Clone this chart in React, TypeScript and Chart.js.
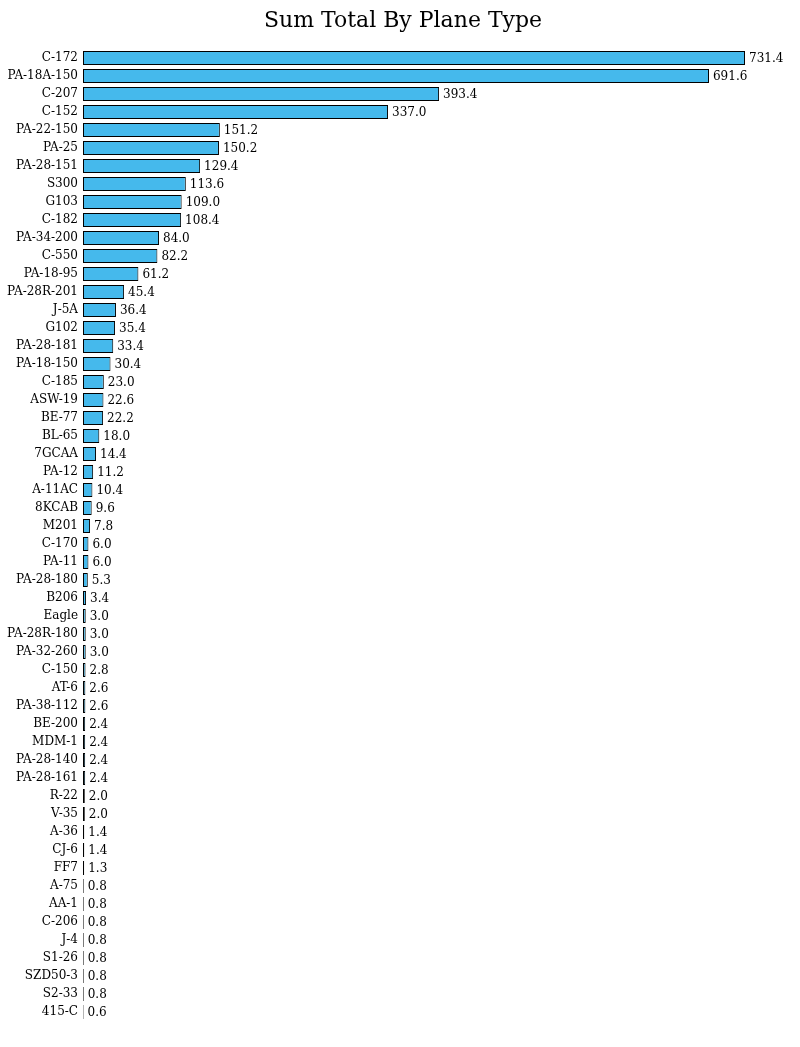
import React, { useEffect, useRef } from "react";
import { Chart, registerables } from "chart.js";

Chart.register(...registerables);

const planeTypes: string[] = [
  "C-172", "PA-18A-150", "C-207", "C-152", "PA-22-150", "PA-25", "PA-28-151", "S300",
  "G103", "C-182", "PA-34-200", "C-550", "PA-18-95", "PA-28R-201", "J-5A", "G102",
  "PA-28-181", "PA-18-150", "C-185", "ASW-19", "BE-77", "BL-65", "7GCAA", "PA-12",
  "A-11AC", "8KCAB", "M201", "C-170", "PA-11", "PA-28-180", "B206", "Eagle",
  "PA-28R-180", "PA-32-260", "C-150", "AT-6", "PA-38-112", "BE-200", "MDM-1", "PA-28-140",
  "PA-28-161", "R-22", "V-35", "A-36", "CJ-6", "FF7", "A-75", "AA-1",
  "C-206", "J-4", "S1-26", "SZD50-3", "S2-33", "415-C",
];

const sumTotals: number[] = [
  731.4, 691.6, 393.4, 337.0, 151.2, 150.2, 129.4, 113.6,
  109.0, 108.4, 84.0, 82.2, 61.2, 45.4, 36.4, 35.4,
  33.4, 30.4, 23.0, 22.6, 22.2, 18.0, 14.4, 11.2,
  10.4, 9.6, 7.8, 6.0, 6.0, 5.3, 3.4, 3.0,
  3.0, 3.0, 2.8, 2.6, 2.6, 2.4, 2.4, 2.4,
  2.4, 2.0, 2.0, 1.4, 1.4, 1.3, 0.8, 0.8,
  0.8, 0.8, 0.8, 0.8, 0.8, 0.6,
];

const chartTitle = "Sum Total By Plane Type";
const FONT = "'DejaVu Serif', serif";

const valueLabels = {
  id: "valueLabels",
  afterDatasetsDraw(chart: any) {
    const ctx = chart.ctx;
    const meta = chart.getDatasetMeta(0);
    const data = chart.data.datasets[0].data as number[];
    ctx.save();
    ctx.font = `12px ${FONT}`;
    ctx.fillStyle = "#000";
    ctx.textAlign = "left";
    ctx.textBaseline = "middle";
    meta.data.forEach((el: any, i: number) => {
      ctx.fillText(data[i].toFixed(1), el.x + 4, el.y + 1);
    });
    ctx.restore();
  },
};

// Title centred slightly right of the canvas centre, as in the reference
const titleText = {
  id: "titleText",
  afterDraw(chart: any) {
    const ctx = chart.ctx;
    ctx.save();
    ctx.font = `22px ${FONT}`;
    ctx.fillStyle = "#000";
    ctx.textAlign = "center";
    ctx.textBaseline = "middle";
    ctx.fillText(chartTitle, 403, 21);
    ctx.restore();
  },
};

export default function App() {
  const ref = useRef<HTMLCanvasElement | null>(null);
  useEffect(() => {
    if (!ref.current) return;
    const chart = new Chart(ref.current, {
      type: "bar",
      data: {
        labels: planeTypes,
        datasets: [
          {
            data: sumTotals,
            backgroundColor: "#45b9ec",
            borderColor: "#000",
            borderWidth: 1,
            borderSkipped: false,
            categoryPercentage: 1,
            barPercentage: 0.78,
          },
        ],
      },
      options: {
        indexAxis: "y",
        responsive: false,
        animation: false,
        layout: { padding: { top: 49, right: 11, bottom: 26, left: 0 } },
        plugins: {
          legend: { display: false },
          tooltip: { enabled: false },
          title: { display: false },
        },
        scales: {
          x: { display: false, min: 0, max: 780 },
          y: {
            grid: { display: false, drawTicks: false, tickLength: 0 },
            border: { display: false },
            ticks: {
              autoSkip: false,
              padding: 5,
              color: "#000",
              font: { family: FONT, size: 12 },
            },
            afterFit(scale: any) {
              scale.width = 83;
            },
          },
        },
      },
      plugins: [valueLabels, titleText],
    });
    return () => chart.destroy();
  }, []);
  return (
    <div style={{ position: "absolute", left: 0, top: 0, width: 800, height: 1047 }}>
      <canvas ref={ref} width={800} height={1047} />
    </div>
  );
}
